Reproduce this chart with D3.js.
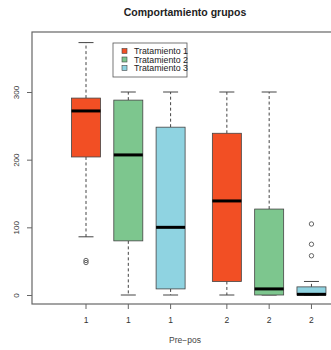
<!DOCTYPE html>
<html>
<head>
<meta charset="utf-8">
<script src="https://cdn.jsdelivr.net/npm/d3@7"></script>
<style>
  body { margin: 0; background: #fff; }
  text { font-family: "Liberation Sans", Arial, sans-serif; }
</style>
</head>
<body>
<div id="chart"></div>
<script>
var width = 331
var height = 350

// data
var tratamientos = ['Tratamiento 1', 'Tratamiento 2', 'Tratamiento 3']
var colores = ['#f24f24', '#7dc68e', '#8fd3e1']
var grupos = ['1', '1', '1', '2', '2', '2']
var trat = [0, 1, 2, 0, 1, 2]
var lowWhisker = [86, 0, 0, 0, 0, 0]
var q1 = [204, 80, 9, 20, 0, 0]
var medians = [272, 207, 100, 139, 9, 1]
var q3 = [291, 288, 248, 239, 127, 12]
var highWhisker = [373, 300, 300, 300, 300, 20]
var outliers = [[48, 51], [], [], [], [], [105, 75, 58]]
var yTicks = [0, 100, 200, 300]

var svg = d3
  .select('#chart')
  .append('svg')
  .attr('width', width)
  .attr('height', height)

var plot = { left: 32, top: 32, bottom: 304, right: 345 }

// slots: second group is pushed a bit to the right
var slots = grupos.map((g, i) => i + (g === '2' ? 0.33 : 0))

var x = d3.scaleLinear().domain([0, 1]).range([86, 128.3])
var y = d3.scaleLinear().domain([0, 300]).range([295, 92])

var boxW = 29
var capW = 15

svg
  .append('text')
  .attr('x', 185)
  .attr('y', 16)
  .attr('text-anchor', 'middle')
  .attr('font-weight', 'bold')
  .attr('font-size', 10.5)
  .attr('fill', '#222')
  .text('Comportamiento grupos')

svg
  .append('rect')
  .attr('x', plot.left)
  .attr('y', plot.top)
  .attr('width', plot.right - plot.left)
  .attr('height', plot.bottom - plot.top)
  .attr('fill', 'none')
  .attr('stroke', '#666')
  .attr('stroke-width', 1.2)

// y axis, labels turned like R does
var yAxis = svg
  .append('g')
  .attr('transform', 'translate(' + plot.left + ',0)')
  .call(d3.axisLeft(y).tickValues(yTicks).tickSize(5))

yAxis.select('.domain').remove()
yAxis.selectAll('line').attr('stroke', '#666')
yAxis
  .selectAll('text')
  .attr('x', null)
  .attr('dy', null)
  .attr('transform', 'translate(-13,0) rotate(-90)')
  .attr('text-anchor', 'middle')
  .attr('font-size', 8)
  .attr('fill', '#333')

// x axis ticks
var xAxis = svg
  .append('g')
  .attr('transform', 'translate(0,' + plot.bottom + ')')

xAxis
  .selectAll('line')
  .data(slots)
  .enter()
  .append('line')
  .attr('x1', d => x(d))
  .attr('x2', d => x(d))
  .attr('y1', 0)
  .attr('y2', 5)
  .attr('stroke', '#666')

xAxis
  .selectAll('text')
  .data(grupos)
  .enter()
  .append('text')
  .attr('x', (d, i) => x(slots[i]))
  .attr('y', 19)
  .attr('text-anchor', 'middle')
  .attr('font-size', 8.5)
  .attr('fill', '#333')
  .text(d => d)

svg
  .append('text')
  .attr('x', 185)
  .attr('y', 343)
  .attr('text-anchor', 'middle')
  .attr('font-size', 8.5)
  .attr('fill', '#444')
  .text('Pre\u2212pos')

// boxes
var boxes = svg
  .selectAll('.box')
  .data(slots)
  .enter()
  .append('g')
  .attr('class', 'box')

boxes.each(function(s, i) {
  var g = d3.select(this)
  var cx = x(s)

  // whiskers
  g.append('line')
    .attr('x1', cx).attr('x2', cx)
    .attr('y1', y(q3[i])).attr('y2', y(highWhisker[i]))
    .attr('stroke', '#444')
    .attr('stroke-dasharray', '3,2.5')
  g.append('line')
    .attr('x1', cx).attr('x2', cx)
    .attr('y1', y(q1[i])).attr('y2', y(lowWhisker[i]))
    .attr('stroke', '#444')
    .attr('stroke-dasharray', '3,2.5')

  // caps
  ;[highWhisker[i], lowWhisker[i]].forEach(v => {
    g.append('line')
      .attr('x1', cx - capW / 2).attr('x2', cx + capW / 2)
      .attr('y1', y(v)).attr('y2', y(v))
      .attr('stroke', '#444')
  })

  g.append('rect')
    .attr('x', cx - boxW / 2)
    .attr('width', boxW)
    .attr('y', y(q3[i]))
    .attr('height', Math.max(y(q1[i]) - y(q3[i]), 0.5))
    .attr('fill', colores[trat[i]])
    .attr('stroke', '#444')
    .attr('stroke-width', 0.8)

  g.append('line')
    .attr('x1', cx - boxW / 2).attr('x2', cx + boxW / 2)
    .attr('y1', y(medians[i])).attr('y2', y(medians[i]))
    .attr('stroke', '#000')
    .attr('stroke-width', 3)

  g.selectAll('circle')
    .data(outliers[i])
    .enter()
    .append('circle')
    .attr('cx', cx)
    .attr('cy', d => y(d))
    .attr('r', 2.2)
    .attr('fill', 'none')
    .attr('stroke', '#555')
    .attr('stroke-width', 0.9)
})

// legend
var legend = svg.append('g').attr('transform', 'translate(113,43)')

legend
  .append('rect')
  .attr('width', 74)
  .attr('height', 34)
  .attr('fill', '#fff')
  .attr('stroke', '#555')
  .attr('stroke-width', 0.8)

var items = legend
  .selectAll('.item')
  .data(tratamientos)
  .enter()
  .append('g')
  .attr('class', 'item')
  .attr('transform', (d, i) => 'translate(0,' + (8 + i * 8.5) + ')')

items
  .append('rect')
  .attr('x', 9)
  .attr('y', -2.5)
  .attr('width', 5)
  .attr('height', 5)
  .attr('fill', (d, i) => colores[i])
  .attr('stroke', '#444')
  .attr('stroke-width', 0.6)

items
  .append('text')
  .attr('x', 21)
  .attr('y', 0)
  .attr('dy', '0.35em')
  .attr('font-size', 8.8)
  .attr('fill', '#222')
  .text(d => d)
</script>
</body>
</html>
